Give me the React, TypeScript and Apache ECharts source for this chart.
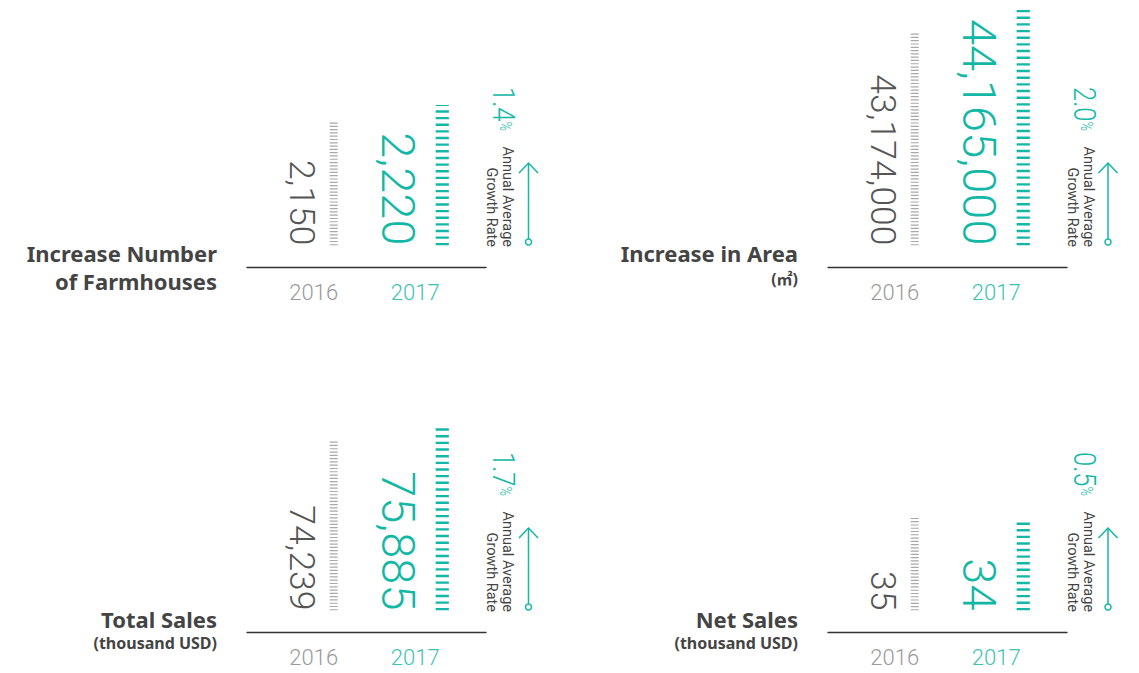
import React, { useEffect, useRef } from 'react';
import * as echarts from 'echarts';

// ---- data ----
const years = ['2016', '2017'];
const panelTitles = ['Increase Number\nof Farmhouses', 'Increase in Area', 'Total Sales', 'Net Sales'];
const panelUnits = ['', '(㎡)', '(thousand USD)', '(thousand USD)'];
const values2016 = [2150, 43174000, 74239, 35];
const values2017 = [2220, 44165000, 75885, 34];
const growthRates = ['1.4', '2.0', '1.7', '0.5'];
const growthLabel = 'Annual Average\nGrowth Rate';
// value-axis bounds for each panel (the infographic uses a truncated scale)
const axisMin = [1605, 33975000, 54252, 4.2];
const axisMax = [2655, 44316000, 82469, 84.2];

// ---- styles ----
const TEAL = '#13b7a5';
const TEAL_LIGHT = '#3cc2b3';
const GRAY_BAR = '#a9a9a9';
const GRAY_TEXT = '#555555';
const TITLE = '#444444';
const NUM_FONT = 'Roboto, "Noto Sans", sans-serif';
const TITLE_FONT = '"Noto Sans", "Noto Sans CJK KR", sans-serif';

const fmt = (v: number) => v.toLocaleString('en-US');

function buildOption() {
  const grid: any[] = [];
  const xAxis: any[] = [];
  const yAxis: any[] = [];
  const series: any[] = [];
  const title: any[] = [];
  const graphic: any[] = [];

  for (let i = 0; i < 4; i++) {
    const col = i % 2;
    const row = Math.floor(i / 2);
    const ox = col * 581;
    const oy = row * 365;

    grid.push({ left: 263 + ox, top: 5.5 + oy, width: 203, height: 240 });
    xAxis.push({
      type: 'category',
      gridIndex: i,
      data: years,
      axisLine: { show: false },
      axisTick: { show: false },
      axisLabel: {
        margin: 36,
        fontSize: 22,
        fontWeight: 300,
        fontFamily: NUM_FONT,
        color: (_v: any, idx: number) => (idx === 0 ? '#9a9a9a' : TEAL_LIGHT),
      },
    });
    yAxis.push({
      type: 'value',
      gridIndex: i,
      min: axisMin[i],
      max: axisMax[i],
      startValue: axisMin[i],
      show: false,
      splitLine: { show: false },
    });
  }
  for (let i = 0; i < 4; i++) {
    const col = i % 2;
    const row = Math.floor(i / 2);
    const ox = col * 581;
    const oy = row * 365;
    grid.push({ left: 247 + ox, top: 266.5 + oy, width: 239, height: 1 });
    xAxis.push({
      type: 'category',
      gridIndex: 4 + i,
      data: [''],
      axisLine: { show: true, lineStyle: { color: '#333', width: 1.3 } },
      axisTick: { show: false },
      axisLabel: { show: false },
    });
    yAxis.push({ type: 'value', gridIndex: 4 + i, show: false, splitLine: { show: false } });
  }

  for (let i = 0; i < 4; i++) {
    const col = i % 2;
    const row = Math.floor(i / 2);
    const ox = col * 581;
    const oy = row * 365;

    series.push({
      type: 'pictorialBar',
      xAxisIndex: i,
      yAxisIndex: i,
      symbol: 'rect',
      symbolRepeat: true,
      symbolClip: true,
      silent: true,
      data: [
        {
          value: values2016[i],
          symbolSize: [8, 1.4],
          symbolMargin: 0.95,
          symbolOffset: [20, 0],
          itemStyle: { color: GRAY_BAR },
        },
        {
          value: values2017[i],
          symbolSize: [13, 2.4],
          symbolMargin: 2.15,
          symbolOffset: [27, 0],
          itemStyle: { color: TEAL },
        },
      ],
    });

    series.push({
      type: 'bar',
      xAxisIndex: i,
      yAxisIndex: i,
      barWidth: 1,
      silent: true,
      itemStyle: { color: 'rgba(0,0,0,0)' },
      label: {
        show: true,
        rotate: -90,
        align: 'right',
        verticalAlign: 'middle',
        fontFamily: NUM_FONT,
        fontWeight: 300,
        formatter: (p: any) => fmt(p.value),
      },
      data: [
        {
          value: values2016[i],
          label: { position: [-11.25, '100%'], fontSize: 35.5, color: GRAY_TEXT },
        },
        {
          value: values2017[i],
          label: { position: [-16.5, '100%'], fontSize: 47, color: TEAL },
        },
      ],
    });

    title.push({
      text: panelTitles[i],
      subtext: panelUnits[i],
      left: col === 0 ? 217 : 798,
      top: row === 0 ? 239 : 605,
      textAlign: 'right',
      padding: 0,
      itemGap: row === 0 ? 2 : 0.5,
      textStyle: { fontSize: 22, fontWeight: 'bold', color: TITLE, lineHeight: 28, fontFamily: TITLE_FONT },
      subtextStyle: { fontSize: 16, fontWeight: 'bold', color: TITLE, lineHeight: 19, fontFamily: TITLE_FONT },
    });

    const ax = 528.5 + col * 579.5;
    graphic.push(
      {
        type: 'text',
        x: 504.5 + ox,
        y: 131 + oy,
        rotation: -Math.PI / 2,
        scaleX: 0.8,
        style: {
          text: `{a|${growthRates[i]}}{b|%}`,
          align: 'right',
          verticalAlign: 'middle',
          fill: TEAL,
          rich: {
            a: { fontSize: 32, fontWeight: 300, fontFamily: NUM_FONT, fill: TEAL },
            b: { fontSize: 16, fontWeight: 300, fontFamily: NUM_FONT, fill: TEAL },
          },
        },
      },
      {
        type: 'text',
        x: 499 + ox,
        y: 247 + oy,
        rotation: -Math.PI / 2,
        style: {
          text: growthLabel,
          align: 'right',
          verticalAlign: 'middle',
          fontSize: 14.5,
          lineHeight: 16,
          fontFamily: NUM_FONT,
          fill: TITLE,
        },
      },
      {
        type: 'line',
        shape: { x1: ax, y1: 163 + oy, x2: ax, y2: 239 + oy },
        style: { stroke: TEAL, lineWidth: 1.5 },
      },
      {
        type: 'polyline',
        shape: { points: [[ax - 9.5, 173 + oy], [ax, 163 + oy], [ax + 9.5, 173 + oy]] },
        style: { stroke: TEAL, fill: null, lineWidth: 1.5 },
      },
      {
        type: 'circle',
        shape: { cx: ax, cy: 242 + oy, r: 3 },
        style: { fill: '#fff', stroke: TEAL, lineWidth: 1.5 },
      }
    );
  }

  return {
    animation: false,
    backgroundColor: '#ffffff',
    title,
    grid,
    xAxis,
    yAxis,
    series,
    graphic,
  };
}

export default function App() {
  const ref = useRef<HTMLDivElement>(null);
  useEffect(() => {
    if (!ref.current) return;
    const chart = echarts.init(ref.current, undefined, { renderer: 'svg' });
    chart.setOption(buildOption() as any);
    return () => chart.dispose();
  }, []);
  return (
    <div
      ref={ref}
      style={{ position: 'fixed', left: 0, top: 0, width: 1139, height: 673, background: '#fff' }}
    />
  );
}
